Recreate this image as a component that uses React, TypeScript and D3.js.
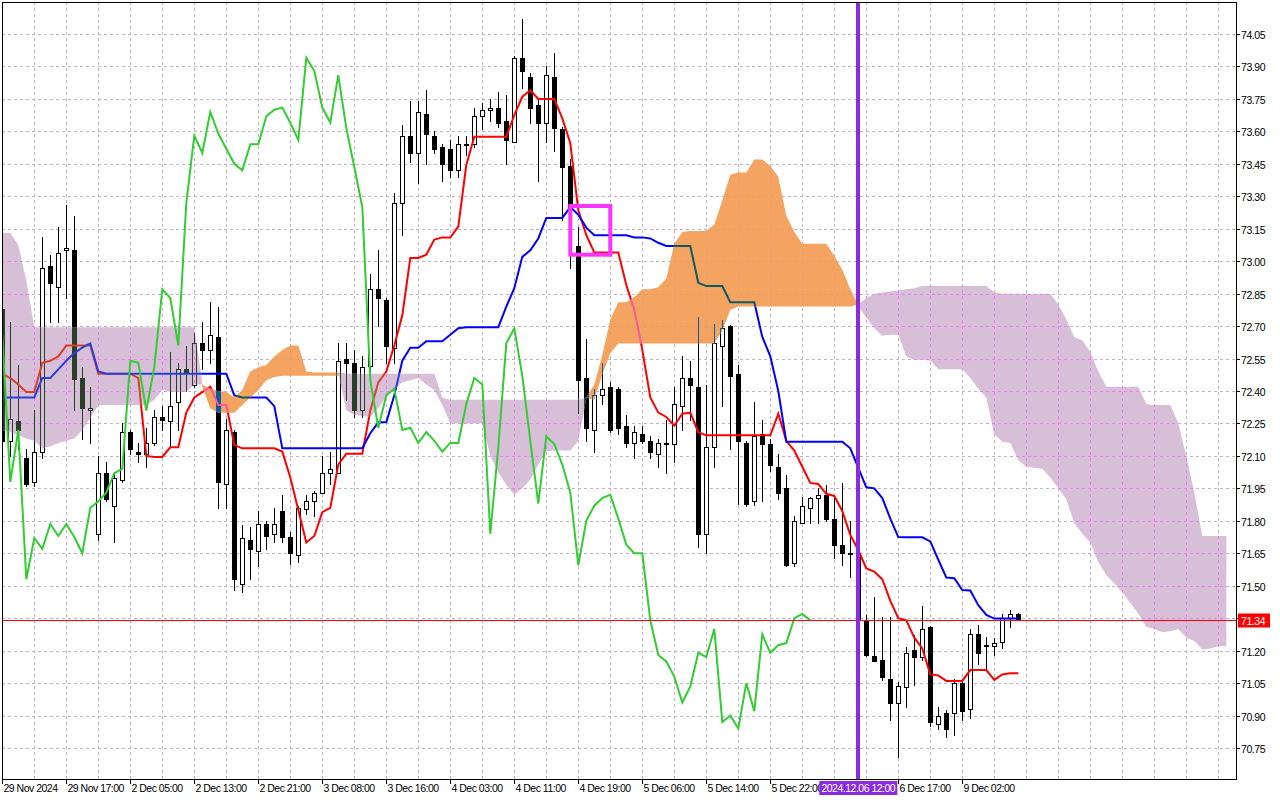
import { useEffect, useRef } from 'react';
import * as d3 from 'd3';

// H1 candles, 128 bars
const opens = [
  72.78, 72.17, 72.26, 72.09, 71.98, 72.12, 72.98, 72.88, 73.05, 73.05,
  72.46, 72.31, 71.74, 72.02, 71.87, 71.99, 72.21, 72.12, 72.11, 72.16,
  72.28, 72.26, 72.35, 72.5, 72.43, 72.62, 72.59, 72.65, 71.97, 72.21,
  71.51, 71.71, 71.66, 71.785, 71.74, 71.845, 71.725, 71.64, 71.855, 71.89,
  71.93, 72.02, 72.02, 72.55, 72.53, 72.31, 72.515, 72.87, 72.82, 72.6,
  73.27, 73.58, 73.5, 73.68, 73.58, 73.53, 73.52, 73.42, 73.54, 73.54,
  73.67, 73.7, 73.71, 73.65, 73.55, 73.94, 73.85, 73.72, 73.64, 73.85,
  73.61, 73.44, 73.07, 72.46, 72.22, 72.38, 72.42, 72.41, 72.24, 72.16,
  72.2, 72.17, 72.11, 72.16, 72.155, 72.33, 72.46, 72.42, 71.74, 72.14,
  72.61, 72.7, 72.48, 72.16, 71.89, 72.2, 72.155, 72.05, 71.95, 71.605,
  71.79, 71.86, 71.905, 71.92, 71.81, 71.69, 71.65, 71.65, 71.34, 71.175,
  71.155, 71.07, 70.96, 71.03, 71.205, 71.17, 71.31, 70.86, 70.91, 70.91,
  71.05, 70.93, 71.275, 71.225, 71.22, 71.24, 71.35, 71.37,
];
const highs = [
  72.8, 72.72, 72.52, 72.13, 72.31, 73.11, 73.03, 73.16, 73.26, 73.21,
  72.51, 72.42, 72.1, 72.07, 72.025, 72.25, 72.22, 72.16, 72.23, 72.31,
  72.33, 72.58, 72.53, 72.61, 72.67, 72.72, 72.81, 72.79, 72.27, 72.22,
  71.78, 71.77, 71.845, 71.8, 71.86, 71.92, 71.75, 71.87, 71.92, 71.94,
  72.1, 72.12, 72.62, 72.62, 72.59, 72.56, 72.94, 73.05, 72.83, 73.315,
  73.63, 73.74, 73.74, 73.79, 73.6, 73.54, 73.56, 73.58, 73.58, 73.71,
  73.73, 73.75, 73.78, 73.77, 73.95, 74.12, 73.87, 73.745, 73.9, 73.96,
  73.62, 73.47, 73.16, 72.64, 72.41, 72.53, 72.44, 72.42, 72.29, 72.24,
  72.24, 72.19, 72.18, 72.265, 72.42, 72.56, 72.54, 72.74, 72.43, 72.71,
  72.73, 72.705, 72.52, 72.17, 72.35, 72.265, 72.18, 72.11, 72.01, 71.82,
  71.91, 71.91, 71.95, 71.965, 71.91, 71.975, 71.8, 71.665, 71.365, 71.45,
  71.355, 71.355, 71.055, 71.215, 71.27, 71.405, 71.315, 70.94, 70.925, 71.07,
  71.07, 71.3, 71.32, 71.265, 71.26, 71.37, 71.39, 71.375,
];
const lows = [
  72.16, 72.1, 72.13, 71.96, 71.96, 72.09, 72.72, 72.72, 72.83, 72.31,
  72.18, 72.16, 71.71, 71.89, 71.7, 71.98, 72.11, 72.07, 72.05, 72.15,
  72.22, 72.145, 72.22, 72.4, 72.42, 72.5, 72.53, 71.86, 71.86, 71.48,
  71.47, 71.53, 71.59, 71.67, 71.7, 71.7, 71.6, 71.61, 71.83, 71.82,
  71.93, 71.97, 72.02, 72.36, 72.28, 72.28, 72.49, 72.7, 72.53, 72.53,
  73.12, 73.46, 73.36, 73.45, 73.5, 73.37, 73.39, 73.39, 73.49, 73.53,
  73.61, 73.65, 73.62, 73.45, 73.55, 73.8, 73.64, 73.37, 73.55, 73.51,
  73.19, 72.97, 72.3, 72.17, 72.12, 72.34, 72.21, 72.2, 72.14, 72.09,
  72.16, 72.09, 72.05, 72.02, 72.07, 72.22, 72.265, 71.68, 71.65, 72.05,
  72.33, 72.13, 71.88, 71.87, 71.875, 71.89, 72.03, 71.9, 71.59, 71.59,
  71.79, 71.79, 71.79, 71.8, 71.63, 71.595, 71.54, 71.32, 71.175, 71.15,
  71.065, 70.88, 70.71, 70.94, 71.04, 71.155, 70.85, 70.84, 70.8, 70.81,
  70.88, 70.89, 71.14, 71.11, 71.18, 71.21, 71.31, 71.34,
];
const closes = [
  72.17, 72.27, 72.22, 71.97, 72.12, 72.97, 72.9, 73.04, 73.06, 72.455,
  72.32, 72.32, 72.02, 71.9, 72.0, 72.21, 72.13, 72.11, 72.16, 72.28,
  72.265, 72.33, 72.5, 72.49, 72.62, 72.59, 72.66, 71.98, 72.22, 71.53,
  71.72, 71.67, 71.785, 71.73, 71.785, 71.725, 71.65, 71.86, 71.89, 71.93,
  72.02, 72.04, 72.54, 72.53, 72.31, 72.51, 72.87, 72.83, 72.61, 73.27,
  73.58, 73.5, 73.69, 73.59, 73.52, 73.45, 73.42, 73.54, 73.54, 73.67,
  73.7, 73.71, 73.64, 73.56, 73.94, 73.88, 73.71, 73.64, 73.86, 73.615,
  73.435, 73.25, 72.45, 72.23, 72.38, 72.41, 72.22, 72.23, 72.16, 72.21,
  72.17, 72.12, 72.16, 72.16, 72.34, 72.46, 72.43, 71.74, 72.14, 72.62,
  72.69, 72.47, 72.17, 71.88, 72.19, 72.155, 72.06, 71.93, 71.595, 71.8,
  71.87, 71.905, 71.92, 71.81, 71.69, 71.65, 71.65, 71.34, 71.18, 71.15,
  71.08, 70.96, 71.035, 71.19, 71.17, 71.3, 70.87, 70.9, 70.84, 71.05,
  70.92, 71.275, 71.19, 71.225, 71.235, 71.35, 71.37, 71.34,
];

// Ichimoku lines
const tenkan = [
  72.48, 72.46, 72.43, 72.395, 72.395, 72.53, 72.54, 72.56, 72.61, 72.61,
  72.61, 72.61, 72.48, 72.48, 72.48, 72.48, 72.48, 72.46, 72.1, 72.095,
  72.095, 72.14, 72.14, 72.3, 72.37, 72.395, 72.42, 72.335, 72.335, 72.15,
  72.135, 72.135, 72.135, 72.135, 72.135, 72.12, 72.0, 71.85, 71.7, 71.73,
  71.84, 71.86, 72.06, 72.11, 72.11, 72.11, 72.31, 72.44, 72.49, 72.61,
  72.75, 73.015, 73.015, 73.03, 73.1, 73.11, 73.11, 73.16, 73.445, 73.575,
  73.575, 73.575, 73.575, 73.575, 73.675, 73.76, 73.79, 73.75, 73.75, 73.75,
  73.66, 73.545, 73.235, 73.12, 73.04, 73.04, 73.04, 73.04, 72.89, 72.775,
  72.59, 72.37, 72.3, 72.28, 72.24, 72.295, 72.3, 72.21, 72.195, 72.195,
  72.195, 72.195, 72.195, 72.195, 72.195, 72.195, 72.195, 72.295, 72.17, 72.125,
  72.05, 71.975, 71.97, 71.925, 71.915, 71.845, 71.735, 71.665, 71.58, 71.565,
  71.53, 71.43, 71.35, 71.34, 71.26, 71.21, 71.09, 71.085, 71.06, 71.06,
  71.06, 71.11, 71.11, 71.11, 71.065, 71.09, 71.095, 71.095,
];
const kijun = [
  72.37, 72.37, 72.37, 72.37, 72.37, 72.46, 72.46, 72.5, 72.54, 72.575,
  72.6, 72.62, 72.49, 72.48, 72.48, 72.48, 72.48, 72.48, 72.48, 72.48,
  72.48, 72.48, 72.48, 72.48, 72.48, 72.48, 72.48, 72.48, 72.48, 72.38,
  72.37, 72.37, 72.37, 72.37, 72.33, 72.135, 72.135, 72.135, 72.135, 72.135,
  72.135, 72.135, 72.135, 72.135, 72.135, 72.135, 72.205, 72.255, 72.255, 72.38,
  72.54, 72.6, 72.6, 72.63, 72.63, 72.63, 72.66, 72.69, 72.695, 72.695,
  72.695, 72.695, 72.695, 72.79, 72.875, 73.02, 73.05, 73.105, 73.2, 73.2,
  73.2, 73.25, 73.215, 73.155, 73.12, 73.12, 73.12, 73.12, 73.12, 73.11,
  73.11, 73.105, 73.085, 73.07, 73.07, 73.07, 73.07, 72.9, 72.885, 72.885,
  72.885, 72.81, 72.81, 72.81, 72.81, 72.65, 72.56, 72.4, 72.165, 72.165,
  72.165, 72.165, 72.165, 72.165, 72.165, 72.165, 72.135, 72.045, 71.955, 71.95,
  71.905, 71.81, 71.725, 71.724, 71.724, 71.724, 71.705, 71.62, 71.538, 71.535,
  71.48, 71.478, 71.41, 71.365, 71.348, 71.348, 71.348, 71.348,
];
// cloud spans, 154 bars (26 bars into the future)
const spanA = [
  72.22, 72.21, 72.195, 72.18, 72.17, 72.135, 72.145, 72.16, 72.17, 72.18,
  72.22, 72.275, 72.335, 72.335, 72.335, 72.335, 72.335, 72.335, 72.335, 72.36,
  72.405, 72.395, 72.395, 72.395, 72.43, 72.43, 72.41, 72.4, 72.395, 72.37,
  72.405, 72.49, 72.51, 72.52, 72.56, 72.59, 72.61, 72.61, 72.49, 72.485,
  72.485, 72.485, 72.485, 72.31, 72.29, 72.285, 72.28, 72.32, 72.375, 72.405,
  72.44, 72.45, 72.46, 72.43, 72.405, 72.335, 72.25, 72.25, 72.25, 72.25,
  72.25, 72.1, 72.025, 71.965, 71.92, 71.95, 71.99, 72.06, 72.12, 72.125,
  72.125, 72.125, 72.17, 72.365, 72.43, 72.565, 72.73, 72.81, 72.81, 72.835,
  72.87, 72.87, 72.88, 72.92, 73.08, 73.135, 73.14, 73.14, 73.14, 73.17,
  73.28, 73.4, 73.41, 73.41, 73.47, 73.47, 73.44, 73.39, 73.21, 73.135,
  73.08, 73.08, 73.08, 73.08, 73.025, 72.96, 72.87, 72.79, 72.74, 72.69,
  72.655, 72.66, 72.66, 72.56, 72.545, 72.545, 72.54, 72.5, 72.5, 72.5,
  72.5, 72.46, 72.41, 72.37, 72.2, 72.165, 72.16, 72.08, 72.05, 72.045,
  72.04, 72.0, 71.95, 71.9, 71.79, 71.74, 71.7, 71.61, 71.55, 71.51,
  71.47, 71.42, 71.37, 71.31, 71.3, 71.285, 71.29, 71.3, 71.26, 71.245,
  71.205, 71.21, 71.22, 71.22,
];
const spanB = [
  73.13, 73.13, 73.075, 72.91, 72.695, 72.695, 72.695, 72.695, 72.695, 72.695,
  72.695, 72.695, 72.695, 72.695, 72.695, 72.695, 72.695, 72.695, 72.695, 72.695,
  72.695, 72.695, 72.695, 72.695, 72.695, 72.42, 72.32, 72.3, 72.3, 72.3,
  72.335, 72.37, 72.405, 72.45, 72.465, 72.47, 72.47, 72.47, 72.47, 72.47,
  72.47, 72.47, 72.47, 72.48, 72.48, 72.48, 72.48, 72.48, 72.48, 72.48,
  72.48, 72.48, 72.48, 72.48, 72.48, 72.37, 72.36, 72.36, 72.36, 72.36,
  72.36, 72.36, 72.36, 72.36, 72.36, 72.36, 72.36, 72.36, 72.36, 72.36,
  72.36, 72.36, 72.36, 72.37, 72.36, 72.475, 72.575, 72.62, 72.62, 72.62,
  72.62, 72.62, 72.62, 72.62, 72.62, 72.62, 72.62, 72.62, 72.62, 72.62,
  72.68, 72.775, 72.79, 72.79, 72.79, 72.79, 72.79, 72.79, 72.79, 72.79,
  72.79, 72.79, 72.79, 72.79, 72.79, 72.79, 72.79, 72.8, 72.83, 72.85,
  72.855, 72.86, 72.865, 72.87, 72.875, 72.885, 72.885, 72.885, 72.885, 72.885,
  72.885, 72.885, 72.885, 72.885, 72.855, 72.85, 72.85, 72.85, 72.85, 72.85,
  72.85, 72.85, 72.8, 72.73, 72.65, 72.633, 72.58, 72.49, 72.42, 72.42,
  72.42, 72.42, 72.42, 72.34, 72.335, 72.335, 72.335, 72.25, 72.1, 71.93,
  71.73, 71.73, 71.73, 71.73,
];
const chikouShift = 26;

const priceTicks = [
  74.05, 73.9, 73.75, 73.6, 73.45, 73.3, 73.15, 73.0, 72.85, 72.7, 72.55, 72.4,
  72.25, 72.1, 71.95, 71.8, 71.65, 71.5, 71.35, 71.2, 71.05, 70.9, 70.75,
];
const timeLabels = [
  '29 Nov 2024', '29 Nov 17:00', '2 Dec 05:00', '2 Dec 13:00', '2 Dec 21:00',
  '3 Dec 08:00', '3 Dec 16:00', '4 Dec 03:00', '4 Dec 11:00', '4 Dec 19:00',
  '5 Dec 06:00', '5 Dec 14:00', '5 Dec 22:00', '6 Dec 17:00', '9 Dec 02:00',
];
const timeLabelBars = [0, 8, 16, 24, 32, 40, 48, 56, 64, 72, 80, 88, 96, 112, 120];
const lastPrice = 71.34;
const markerBar = 107;
const markerLabel = '2024.12.06 12:00';
const boxBars = [71, 76];
const boxPrices = [73.255, 73.03];

const FONT = "'Liberation Sans', Arial, sans-serif";

export default function App() {
  const svgRef = useRef<SVGSVGElement>(null);

  useEffect(() => {
    if (!svgRef.current) return;
    const svg = d3.select(svgRef.current);
    svg.selectAll('*').remove();

    const left = 2, right = 1236, top = 2, bottom = 779;
    const x = d3.scaleLinear().domain([0, 1]).range([2.3, 10.3]);
    const y = d3.scaleLinear().domain([70.75, 74.05]).range([748, 34]);
    const px = (v: number) => Math.round(v) + 0.5;

    svg.append('rect').attr('width', 1280).attr('height', 800).attr('fill', '#fff');
    const defs = svg.append('defs');
    defs.append('clipPath').attr('id', 'plotClip')
      .append('rect').attr('x', left).attr('y', top).attr('width', right - left).attr('height', bottom - top);

    const cloudIdx = d3.range(spanA.length);
    const upper = (i: number) => Math.max(spanA[i], spanB[i]);
    const orangeArea = d3.area<number>().x((i) => x(i)).y0((i) => y(spanB[i])).y1((i) => y(upper(i)));
    const thistleArea = d3.area<number>().x((i) => x(i)).y0((i) => y(spanA[i])).y1((i) => y(upper(i)));
    defs.append('clipPath').attr('id', 'orangeClip').append('path').attr('d', orangeArea(cloudIdx) ?? '');
    defs.append('clipPath').attr('id', 'thistleClip').append('path').attr('d', thistleArea(cloudIdx) ?? '');

    const plot = svg.append('g').attr('clip-path', 'url(#plotClip)');

    const drawGrid = (g: any, color: string) => {
      const grid = g.append('g').attr('stroke', color).attr('stroke-width', 1).attr('stroke-dasharray', '3,3');
      grid.selectAll('line.h').data(priceTicks).join('line')
        .attr('x1', left).attr('x2', right).attr('y1', (d: number) => px(y(d))).attr('y2', (d: number) => px(y(d)));
      grid.selectAll('line.v').data(d3.range(4, spanA.length, 4)).join('line')
        .attr('y1', top).attr('y2', bottom).attr('x1', (d: number) => px(x(d))).attr('x2', (d: number) => px(x(d)));
    };

    const drawCandles = (g: any, bullFill: string, ink: string) => {
      const c = g.append('g');
      opens.forEach((o, i) => {
        const cl = closes[i];
        const cx = Math.round(x(i));
        const hiBody = y(Math.max(o, cl));
        const loBody = y(Math.min(o, cl));
        c.append('line').attr('x1', cx + 0.5).attr('x2', cx + 0.5).attr('y1', Math.round(y(highs[i]))).attr('y2', Math.round(hiBody) + 1).attr('stroke', ink);
        c.append('line').attr('x1', cx + 0.5).attr('x2', cx + 0.5).attr('y1', Math.round(loBody)).attr('y2', Math.round(y(lows[i])) + 1).attr('stroke', ink);
        const h = Math.max(1, Math.round(loBody) - Math.round(hiBody));
        if (cl >= o) {
          c.append('rect').attr('x', cx - 1.5).attr('y', Math.round(hiBody) + 0.5).attr('width', 4).attr('height', h)
            .attr('fill', bullFill).attr('stroke', ink).attr('stroke-width', 1);
        } else {
          c.append('rect').attr('x', cx - 2).attr('y', Math.round(hiBody)).attr('width', 5).attr('height', h + 1).attr('fill', ink);
        }
      });
    };

    const line = d3.line<number>().x((_, i) => x(i)).y((d) => y(d));
    const drawLines = (g: any, red: string, blue: string) => {
      g.append('path').attr('d', line(tenkan)).attr('fill', 'none').attr('stroke', red).attr('stroke-width', 2);
      g.append('path').attr('d', line(kijun)).attr('fill', 'none').attr('stroke', blue).attr('stroke-width', 2);
    };

    drawGrid(plot, '#c2b4c6');
    drawCandles(plot, '#ffffff', '#000000');
    drawLines(plot, '#ff0000', '#0000ff');

    // cloud, with what is below it shown inverted the way the terminal paints it
    plot.append('path').attr('d', orangeArea(cloudIdx)).attr('fill', '#f4a460');
    plot.append('path').attr('d', thistleArea(cloudIdx)).attr('fill', '#d8bfd8');
    const inOrange = plot.append('g').attr('clip-path', 'url(#orangeClip)');
    drawGrid(inOrange, '#e0a070');
    drawCandles(inOrange, 'none', '#0b5b9f');
    drawLines(inOrange, '#f45b9f', '#0b5b60');
    const inThistle = plot.append('g').attr('clip-path', 'url(#thistleClip)');
    drawGrid(inThistle, '#f27af2');
    drawCandles(inThistle, 'none', '#274027');
    drawLines(inThistle, '#d84027', '#2740d8');

    // chikou span: closes drawn chikouShift bars back
    plot.append('path').attr('d', line(closes.slice(chikouShift)))
      .attr('fill', 'none').attr('stroke', '#32cd32').attr('stroke-width', 2);

    // last price line
    plot.append('line').attr('x1', left).attr('x2', right)
      .attr('y1', px(y(lastPrice))).attr('y2', px(y(lastPrice))).attr('stroke', '#ff0000').attr('stroke-width', 1);

    // vertical marker
    plot.append('rect').attr('x', Math.round(x(markerBar)) - 2).attr('y', top).attr('width', 4).attr('height', bottom - top)
      .attr('fill', '#8a2be2');

    // highlight box
    plot.append('rect')
      .attr('x', x(boxBars[0])).attr('y', y(boxPrices[0]))
      .attr('width', x(boxBars[1]) - x(boxBars[0])).attr('height', y(boxPrices[1]) - y(boxPrices[0]))
      .attr('fill', 'none').attr('stroke', '#ff33ff').attr('stroke-width', 4);

    // frame
    svg.append('rect').attr('x', left + 0.5).attr('y', top + 0.5).attr('width', right - left).attr('height', bottom - top)
      .attr('fill', 'none').attr('stroke', '#000').attr('stroke-width', 1);

    // price axis
    const pa = svg.append('g').attr('font-family', FONT).attr('font-size', 10.5).attr('letter-spacing', '-0.45px');
    priceTicks.forEach((p) => {
      const yy = px(y(p));
      pa.append('line').attr('x1', right).attr('x2', right + 4).attr('y1', yy).attr('y2', yy).attr('stroke', '#000');
      pa.append('text').attr('x', right + 5).attr('y', yy + 4).attr('fill', '#000').text(p.toFixed(2));
    });
    const ly = px(y(lastPrice));
    pa.append('rect').attr('x', right + 2).attr('y', ly - 7).attr('width', 32).attr('height', 14).attr('fill', '#ff0000');
    pa.append('text').attr('x', right + 5).attr('y', ly + 4).attr('fill', '#fff').text(lastPrice.toFixed(2));

    // time axis
    const ta = svg.append('g').attr('font-family', FONT).attr('font-size', 10.5).attr('letter-spacing', '-0.5px');
    timeLabels.forEach((t, k) => {
      const xx = px(x(timeLabelBars[k]));
      ta.append('line').attr('x1', xx).attr('x2', xx).attr('y1', bottom).attr('y2', bottom + 5).attr('stroke', '#000');
      ta.append('text').attr('x', xx + 1).attr('y', 792).attr('fill', '#000').text(t);
    });
    const mx = x(markerBar);
    ta.append('rect').attr('x', mx - 39).attr('y', 781).attr('width', 78).attr('height', 14).attr('fill', '#8a2be2');
    ta.append('text').attr('x', mx).attr('y', 792).attr('text-anchor', 'middle').attr('fill', '#fff').text(markerLabel);
  }, []);

  return (
    <svg
      ref={svgRef}
      width={1280}
      height={800}
      style={{ position: 'absolute', left: 0, top: 0, display: 'block' }}
    />
  );
}
